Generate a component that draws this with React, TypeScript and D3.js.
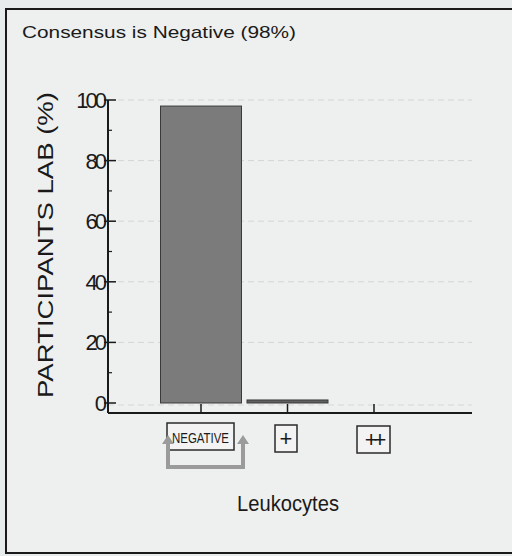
import React from "react";
import * as d3 from "d3";

const categories = ["NEGATIVE", "+", "++"];
const values = [98, 1, 0];
const yTicks = [0, 20, 40, 60, 80, 100];
const yMinorTicks = [10, 30, 50, 70, 90];
const title = "Consensus is Negative (98%)";
const yLabel = "PARTICIPANTS LAB  (%)";
const xLabel = "Leukocytes";

export default function App() {
  const W = 512, H = 556;
  const y = d3.scaleLinear().domain([0, 100]).range([403, 100]);
  const x = d3.scaleBand<string>().domain(categories).range([160.5, 414.5]).paddingInner(0.0636).paddingOuter(0);
  const axisX = 108;
  const axisY = 413;
  const font = "Arial, 'Liberation Sans', sans-serif";
  const boxW = [67, 22, 33];
  const center = (c: string) => (x(c) as number) + x.bandwidth() / 2;

  return (
    <svg width={W} height={H} style={{ position: "absolute", left: 0, top: 0, display: "block" }}>
      <rect x={0} y={0} width={W} height={H} fill="#e9ecec" />
      <rect x={6} y={9} width={W + 10} height={544} fill="#eef0ef" stroke="#1a1a1a" strokeWidth={2} />
      <text x={22} y={38} fontFamily={font} fontSize={17} fill="#1a1a1a" textLength={274} lengthAdjust="spacingAndGlyphs">{title}</text>

      {/* gridlines */}
      {yTicks.filter(t => t > 0).map(t => (
        <line key={"g" + t} x1={axisX} x2={472} y1={y(t)} y2={y(t)} stroke="#d3d5d4" strokeWidth={1} strokeDasharray="6,4" />
      ))}
      <line x1={axisX} x2={472} y1={y(0) + 2} y2={y(0) + 2} stroke="#d6d8d7" strokeWidth={1} strokeDasharray="6,4" />

      {/* bars */}
      {categories.map((c, i) => values[i] > 0 ? (
        <rect key={c} x={x(c) as number} y={y(values[i])} width={x.bandwidth()}
          height={Math.max(3, y(0) - y(values[i]))}
          fill={i === 0 ? "#7b7b7b" : "#5f5f5f"} stroke="#3a3a3a" strokeWidth={1} />
      ) : null)}

      {/* y axis */}
      <line x1={axisX} x2={axisX} y1={y(100)} y2={axisY} stroke="#1a1a1a" strokeWidth={2} />
      {yTicks.map(t => (
        <g key={"t" + t}>
          <line x1={axisX - 4} x2={axisX + 8} y1={y(t)} y2={y(t)} stroke="#1a1a1a" strokeWidth={1.5} />
          <text x={axisX - 4} y={y(t)} dy="0.36em" textAnchor="end" fontFamily={font} fontSize={22}
            letterSpacing={-3} fill="#1a1a1a">{t}</text>
        </g>
      ))}
      {yMinorTicks.map(t => (
        <line key={"m" + t} x1={axisX} x2={axisX + 4} y1={y(t)} y2={y(t)} stroke="#1a1a1a" strokeWidth={1.2} />
      ))}

      {/* x axis */}
      <line x1={axisX} x2={472} y1={axisY} y2={axisY} stroke="#1a1a1a" strokeWidth={2} />
      {categories.map(c => (
        <line key={"xt" + c} x1={center(c)} x2={center(c)} y1={axisY} y2={axisY - 9} stroke="#1a1a1a" strokeWidth={1.5} />
      ))}

      {/* category labels in boxes */}
      {categories.map((c, i) => {
        const cx = c === "NEGATIVE" ? 200.5 : c === "+" ? 286 : 373.5;
        const top = i === 0 ? 423 : i === 1 ? 425 : 426;
        return (
          <g key={"lb" + c}>
            <rect x={cx - boxW[i] / 2} y={top} width={boxW[i]} height={27} fill="#f2f3f2" stroke="#2a2a2a" strokeWidth={1.5} />
            {i === 0 ? (
              <text x={cx} y={top + 20} textAnchor="middle" fontFamily={font} fontSize={15}
                textLength={57} lengthAdjust="spacingAndGlyphs" fill="#1a1a1a">{c}</text>
            ) : (
              <text x={cx} y={top + 21} textAnchor="middle" fontFamily={font} fontSize={22}
                letterSpacing={i === 2 ? -4 : 0} fill="#1a1a1a">{c}</text>
            )}
          </g>
        );
      })}

      {/* consensus arrow */}
      <path d="M168,441 L168,467 L243,467 L243,441" fill="none" stroke="#9b9b9b" strokeWidth={4} />
      <path d="M162,444 L168,435 L174,444 Z" fill="#9b9b9b" />
      <path d="M237,444 L243,435 L249,444 Z" fill="#9b9b9b" />

      {/* axis titles */}
      <text x={288} y={511} textAnchor="middle" fontFamily={font} fontSize={22} fill="#1a1a1a"
        textLength={102} lengthAdjust="spacingAndGlyphs">{xLabel}</text>
      <text transform="translate(53,245) rotate(-90)" textAnchor="middle" fontFamily={font} fontSize={22}
        fill="#1a1a1a" textLength={306} lengthAdjust="spacingAndGlyphs">{yLabel}</text>
    </svg>
  );
}
